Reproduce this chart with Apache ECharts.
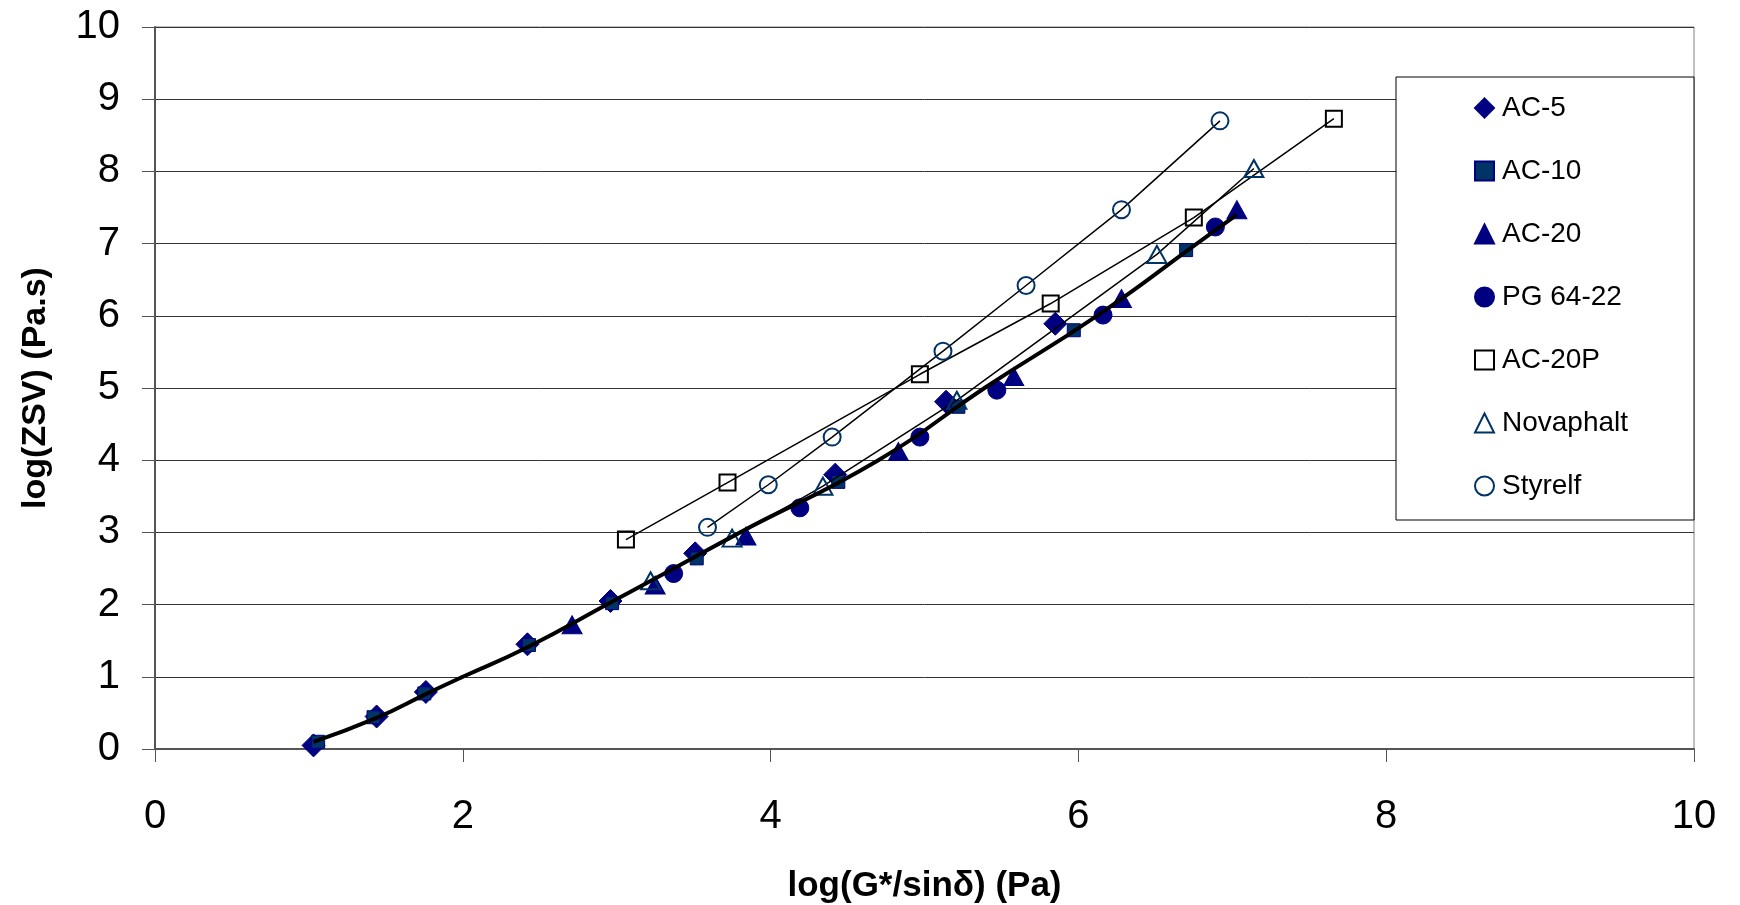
<!DOCTYPE html>
<html>
<head>
<meta charset="utf-8">
<script src="https://cdn.jsdelivr.net/npm/echarts@6/dist/echarts.min.js"></script>
<style>
  html, body { margin: 0; padding: 0; background: #fff; }
  #chart { width: 1740px; height: 905px; }
</style>
</head>
<body>
<div id="chart"></div>
<script>
// values: [log(G*/sin d), log(ZSV)]
var ac5 = [[1.03, 0.05], [1.44, 0.45], [1.76, 0.79], [2.42, 1.45], [2.96, 2.05], [3.51, 2.71], [4.42, 3.80], [5.14, 4.81], [5.85, 5.89]];
var ac10 = [[1.06, 0.10], [1.42, 0.44], [1.75, 0.77], [2.43, 1.44], [2.97, 2.02], [3.52, 2.64], [4.44, 3.70], [5.22, 4.74], [5.97, 5.80], [6.70, 6.91]];
var ac20 = [[2.71, 1.72], [3.25, 2.27], [3.84, 2.95], [4.83, 4.12], [5.58, 5.16], [6.28, 6.24], [7.03, 7.47]];
var pg6422 = [[3.37, 2.43], [4.19, 3.34], [4.97, 4.32], [5.47, 4.97], [6.16, 6.01], [6.89, 7.23]];
var ac20p = [[3.06, 2.90], [3.72, 3.69], [4.97, 5.19], [5.82, 6.17], [6.75, 7.36], [7.66, 8.73]];
var novaphalt = [[3.22, 2.33], [3.75, 2.92], [4.34, 3.64], [5.21, 4.83], [6.51, 6.85], [7.14, 8.04]];
var styrelf = [[3.59, 3.07], [3.985, 3.66], [4.40, 4.32], [5.12, 5.51], [5.66, 6.42], [6.28, 7.47], [6.92, 8.70]];
// thick master curve through the unmodified binders
var fitLine = [[1.03, 0.10], [1.44, 0.43], [1.76, 0.76], [2.0, 1.0], [2.42, 1.41], [2.96, 2.03], [3.37, 2.50], [3.80, 3.0], [4.70, 4.0], [5.39, 5.0], [6.12, 6.0], [6.77, 7.0], [7.03, 7.40]];

var xTicks = [0, 2, 4, 6, 8, 10];
var yTicks = [0, 1, 2, 3, 4, 5, 6, 7, 8, 9, 10];

var FONT = "'Liberation Sans', Arial, sans-serif";
var NAVY = '#000080';
var DARKBLUE = '#003366';

function filled(name, data, symbol, size, fill) {
    return {
        name: name,
        type: 'scatter',
        data: data,
        symbol: symbol,
        symbolSize: size,
        z: 2,
        itemStyle: { color: fill || NAVY, borderColor: NAVY, borderWidth: 1, opacity: 1 }
    };
}

function open(name, data, symbol, size, stroke) {
    return {
        name: name,
        type: 'line',
        data: data,
        symbol: symbol,
        symbolSize: size,
        showSymbol: true,
        z: 3,
        lineStyle: { color: '#000', width: 1.5 },
        itemStyle: { color: 'rgba(0,0,0,0)', borderColor: stroke, borderWidth: 2 },
        emphasis: { disabled: true }
    };
}

var option = {
    backgroundColor: '#fff',
    animation: false,
    grid: {
        left: 155, top: 27, right: 46, bottom: 156,
        outerBoundsMode: 'none',
        containLabel: false,
        show: true, borderColor: '#808080', borderWidth: 1
    },
    xAxis: {
        type: 'value',
        min: xTicks[0], max: xTicks[xTicks.length - 1], interval: 2,
        name: 'log(G*/sinδ) (Pa)',
        nameLocation: 'middle',
        nameGap: 120,
        nameTextStyle: { fontFamily: FONT, fontSize: 35, fontWeight: 'bold', color: '#000' },
        axisLine: { lineStyle: { color: '#555', width: 2 } },
        axisTick: { show: true, length: 13, lineStyle: { color: '#555', width: 1 } },
        axisLabel: { fontFamily: FONT, fontSize: 40, color: '#000', margin: 48 },
        splitLine: { show: false }
    },
    yAxis: {
        type: 'value',
        min: yTicks[0], max: yTicks[yTicks.length - 1], interval: 1,
        name: 'log(ZSV) (Pa.s)',
        nameLocation: 'middle',
        nameGap: 102,
        nameTextStyle: { fontFamily: FONT, fontSize: 34, fontWeight: 'bold', color: '#000' },
        axisLine: { show: true, lineStyle: { color: '#555', width: 2 } },
        axisTick: { show: true, length: 13, lineStyle: { color: '#555', width: 1 } },
        axisLabel: { fontFamily: FONT, fontSize: 40, color: '#000', margin: 35 },
        splitLine: { show: true, lineStyle: { color: '#333', width: 1 } }
    },
    legend: {
        orient: 'vertical',
        left: 1474, top: 93,
        padding: 0,
        itemWidth: 19, itemHeight: 19,
        itemGap: 33,
        z: 5,
        textStyle: { fontFamily: FONT, fontSize: 28, color: '#000', lineHeight: 30, padding: [0, 0, 0, 3] },
        data: [
            { name: 'AC-5', icon: 'diamond' },
            { name: 'AC-10', icon: 'rect' },
            { name: 'AC-20', icon: 'triangle' },
            { name: 'PG 64-22', icon: 'circle' },
            { name: 'AC-20P', icon: 'rect' },
            { name: 'Novaphalt', icon: 'triangle' },
            { name: 'Styrelf', icon: 'circle' }
        ]
    },
    graphic: [{
        type: 'rect',
        z: 4,
        shape: { x: 1396, y: 77, width: 298, height: 443 },
        style: { fill: '#fff', stroke: '#000', lineWidth: 1 }
    }],
    series: [
        filled('AC-5', ac5, 'diamond', 23),
        filled('AC-10', ac10, 'rect', 13, DARKBLUE),
        filled('AC-20', ac20, 'triangle', [20, 18]),
        filled('PG 64-22', pg6422, 'circle', 18),
        open('AC-20P', ac20p, 'rect', 16, '#000'),
        open('Novaphalt', novaphalt, 'triangle', [19, 17], DARKBLUE),
        open('Styrelf', styrelf, 'circle', 17, DARKBLUE),
        {
            name: 'fit',
            type: 'line',
            data: fitLine,
            smooth: true,
            showSymbol: false,
            z: 4,
            lineStyle: { color: '#000', width: 4 },
            emphasis: { disabled: true }
        }
    ]
};

var myChart = echarts.init(document.getElementById('chart'));
myChart.setOption(option);
</script>
</body>
</html>
